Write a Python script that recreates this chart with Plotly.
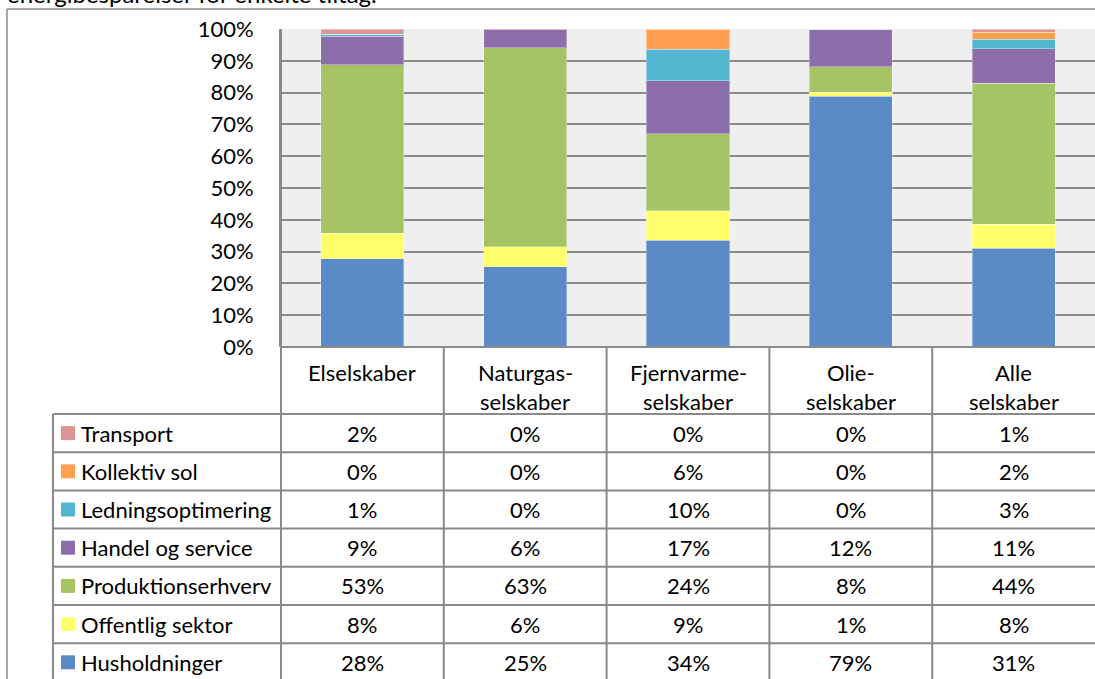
import plotly.graph_objects as go

# ── data ─────────────────────────────────────────────────────────────────────
companies = ["Elselskaber", "Naturgasselskaber", "Fjernvarmeselskaber",
             "Olieselskaber", "Alle selskaber"]
header_lines = [["Elselskaber"], ["Naturgas-", "selskaber"],
                ["Fjernvarme-", "selskaber"], ["Olie-", "selskaber"],
                ["Alle", "selskaber"]]

husholdninger    = [27.7, 25.3, 33.6, 78.8, 31.0]
offentlig_sektor = [8.1, 6.2, 9.2, 1.3, 7.6]
produktion       = [53.0, 62.6, 24.3, 8.1, 44.4]
handel_service   = [9.0, 5.6, 16.7, 11.8, 10.8]
ledning          = [0.6, 0.0, 9.8, 0.0, 3.0]
kollektiv_sol    = [0.0, 0.0, 6.4, 0.0, 2.2]
transport        = [1.6, 0.3, 0.0, 0.0, 1.0]

# bottom → top stacking order
series = [
    ("Husholdninger", husholdninger, "#5a8bc7"),
    ("Offentlig sektor", offentlig_sektor, "#ffff6b"),
    ("Produktionserhverv", produktion, "#a6c466"),
    ("Handel og service", handel_service, "#8b6eaa"),
    ("Ledningsoptimering", ledning, "#53b6d0"),
    ("Kollektiv sol", kollektiv_sol, "#ff9f50"),
    ("Transport", transport, "#d99694"),
]
y_ticks = list(range(0, 101, 10))

# ── layout geometry (pixels) ─────────────────────────────────────────────────
W, H = 1095, 679
PL, PT, PB = 281, 29, 347          # plot left / top / bottom
HEAD_B = 414                       # header row bottom
ROW_H = 38.2
LEG_L = 53                         # legend column left edge
FONT = "Lato"
FS = 22
GRID = "#8a8a8a"


def xp(px):
    return (px - PL) / (W - PL)


def yp(py):
    return (PB - py) / (PB - PT)


fig = go.Figure()
for name, vals, color in series:
    fig.add_trace(go.Bar(
        x=companies, y=vals, name=name,
        marker=dict(color=color, line=dict(color="rgba(255,255,255,0.35)", width=1)),
        showlegend=False, hoverinfo="skip",
    ))

shapes = []
line = dict(color=GRID, width=2)

# outer chart border (left + top)
shapes.append(dict(type="line", xref="paper", yref="paper",
                   x0=xp(7), x1=xp(W + 5), y0=yp(9), y1=yp(9),
                   line=dict(color="#8a8a8a", width=1.5)))
shapes.append(dict(type="line", xref="paper", yref="paper",
                   x0=xp(7), x1=xp(7), y0=yp(9), y1=yp(H + 5),
                   line=dict(color="#8a8a8a", width=1.5)))

# table: horizontal rules
for i in range(len(series) + 1):
    y = HEAD_B + i * ROW_H
    shapes.append(dict(type="line", xref="paper", yref="paper",
                       x0=xp(LEG_L), x1=1.01, y0=yp(y), y1=yp(y), line=line))
shapes.append(dict(type="line", xref="paper", yref="paper",
                   x0=0, x1=1.01, y0=0, y1=0, line=line))
# table: vertical rules
shapes.append(dict(type="line", xref="paper", yref="paper",
                   x0=xp(LEG_L), x1=xp(LEG_L), y0=yp(HEAD_B), y1=yp(H + 5), line=line))
shapes.append(dict(type="line", xref="paper", yref="paper",
                   x0=0, x1=0, y0=1, y1=yp(H + 5), line=line))
for k in range(1, len(companies)):
    x = k / len(companies)
    shapes.append(dict(type="line", xref="paper", yref="paper",
                       x0=x, x1=x, y0=0, y1=yp(H + 5), line=line))

annotations = []
# caption above the chart, mostly cropped away at the top edge
annotations.append(dict(text="energibesparelser for enkelte tiltag.", xref="paper", yref="paper",
                        x=xp(5), y=yp(10), xanchor="left", yanchor="bottom", showarrow=False,
                        font=dict(family=FONT, size=24, color="black")))

# header row
for i, lines in enumerate(header_lines):
    for j, txt in enumerate(lines):
        annotations.append(dict(text=txt, xref="x", yref="paper", x=i, y=yp(372 + 29 * j),
                                xanchor="center", yanchor="middle", showarrow=False,
                                font=dict(family=FONT, size=FS, color="black")))

# data rows: top row is the top of the stack
for r, (name, vals, color) in enumerate(reversed(series)):
    yc = HEAD_B + (r + 0.5) * ROW_H
    shapes.append(dict(type="rect", xref="paper", yref="paper",
                       x0=xp(61), x1=xp(75), y0=yp(yc - 7), y1=yp(yc + 7),
                       fillcolor=color, line=dict(width=0)))
    annotations.append(dict(text=name, xref="paper", yref="paper", x=xp(79), y=yp(yc),
                            xanchor="left", yanchor="middle", showarrow=False,
                            font=dict(family=FONT, size=FS, color="black")))
    for i, v in enumerate(vals):
        annotations.append(dict(text=f"{int(v + 0.5)}%", xref="x", yref="paper", x=i, y=yp(yc),
                                xanchor="center", yanchor="middle", showarrow=False,
                                font=dict(family=FONT, size=FS, color="black")))

fig.update_layout(
    width=W, height=H,
    margin=dict(l=PL, r=0, t=PT, b=H - PB, pad=0),
    paper_bgcolor="white",
    plot_bgcolor="#efefef",
    barmode="stack",
    bargap=0.49,
    font=dict(family=FONT, size=FS, color="black"),
    shapes=shapes,
    annotations=annotations,
)
fig.update_xaxes(range=[-0.5, len(companies) - 0.5], showticklabels=False, ticks="",
                 showgrid=False, zeroline=False, showline=False)
fig.update_yaxes(range=[0, 100], tickvals=y_ticks, ticktext=[f"{t}%" for t in y_ticks],
                 showgrid=True, gridcolor=GRID, gridwidth=2, zeroline=False,
                 showline=True, linecolor=GRID, linewidth=2, ticks="",
                 ticklabelstandoff=21, tickfont=dict(family=FONT, size=FS, color="black"))

fig.write_html("out.html", config={"displayModeBar": False},
               post_script="document.body.style.margin='0';document.body.style.overflow='hidden';")
